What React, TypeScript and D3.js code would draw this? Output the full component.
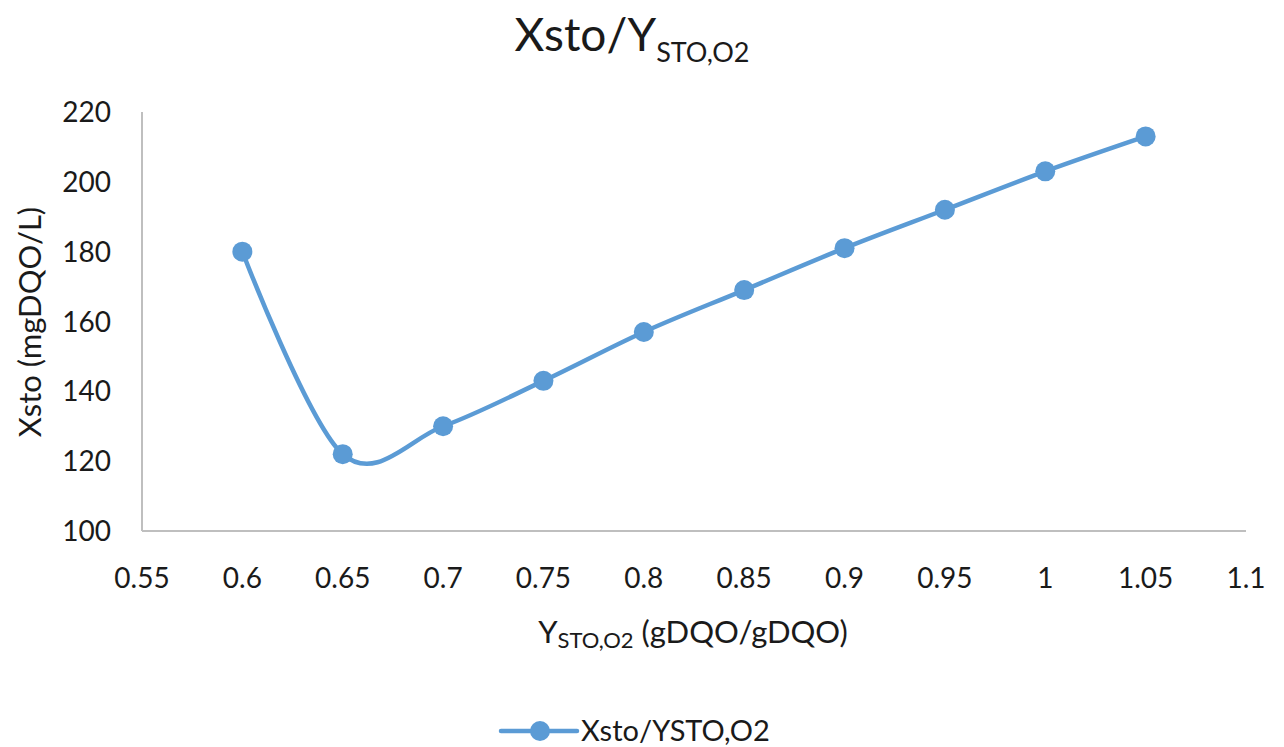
import React from "react";
import * as d3 from "d3";

// Yield coefficient (x) against stored product concentration (y)
const yieldValues = [0.6, 0.65, 0.7, 0.75, 0.8, 0.85, 0.9, 0.95, 1.0, 1.05];
const xstoValues = [180, 122, 130, 143, 157, 169, 181, 192, 203, 213];

const xTicks = [0.55, 0.6, 0.65, 0.7, 0.75, 0.8, 0.85, 0.9, 0.95, 1.0, 1.05, 1.1];
const yTicks = [100, 120, 140, 160, 180, 200, 220];

const seriesName = "Xsto/YSTO,O2";

const W = 1284;
const H = 747;
const BLUE = "#5B9BD5";
const AXIS = "#BFBFBF";
const TEXT = "#1a1a1a";
const FONT = "Lato, 'Open Sans', sans-serif";

export default function App() {
  const x = d3.scaleLinear().domain([0.55, 1.1]).range([142, 1246]);
  const y = d3.scaleLinear().domain([100, 220]).range([531, 112]);

  const points: [number, number][] = yieldValues.map((v, i) => [x(v), y(xstoValues[i])]);
  const line = d3.line().curve(d3.curveCardinal.tension(0));
  const path = line(points) || "";

  return (
    <svg
      width={W}
      height={H}
      viewBox={`0 0 ${W} ${H}`}
      style={{ position: "absolute", left: 0, top: 0, background: "#fff" }}
      fontFamily={FONT}
    >
      <rect width={W} height={H} fill="#fff" />

      {/* title */}
      <text x={632} y={51} textAnchor="middle" fill={TEXT} fontSize={46}>
        Xsto/Y
        <tspan fontSize={27} dy={11}>STO,O2</tspan>
      </text>

      {/* axes */}
      <line x1={x(0.55)} x2={x(0.55)} y1={y(220)} y2={y(100)} stroke={AXIS} strokeWidth={2} />
      <line x1={x(0.55)} x2={x(1.1)} y1={y(100)} y2={y(100)} stroke={AXIS} strokeWidth={2} />

      {yTicks.map((t) => (
        <text
          key={t}
          x={111}
          y={y(t)}
          dy="0.36em"
          textAnchor="end"
          fill={TEXT}
          fontSize={28}
        >
          {t}
        </text>
      ))}

      {xTicks.map((t) => (
        <text key={t} x={x(t)} y={588} textAnchor="middle" fill={TEXT} fontSize={28}>
          {d3.format("~g")(t)}
        </text>
      ))}

      {/* axis titles */}
      <text
        transform={`translate(41,322) rotate(-90)`}
        textAnchor="middle"
        fill={TEXT}
        fontSize={31}
      >
        Xsto (mgDQO/L)
      </text>
      <text x={693} y={643} textAnchor="middle" fill={TEXT} fontSize={31}>
        Y
        <tspan fontSize={22} dy={5}>STO,O2</tspan>
        <tspan dy={-5}> (gDQO/gDQO)</tspan>
      </text>

      {/* series */}
      <path d={path} fill="none" stroke={BLUE} strokeWidth={4.5} strokeLinejoin="round" />
      {points.map(([px, py], i) => (
        <circle key={i} cx={px} cy={py} r={10} fill={BLUE} />
      ))}

      {/* legend */}
      <line x1={501} x2={577} y1={731} y2={731} stroke={BLUE} strokeWidth={4.5} strokeLinecap="round" />
      <circle cx={540} cy={731} r={10} fill={BLUE} />
      <text x={581} y={731} dy="0.36em" fill={TEXT} fontSize={29}>
        {seriesName}
      </text>
    </svg>
  );
}
